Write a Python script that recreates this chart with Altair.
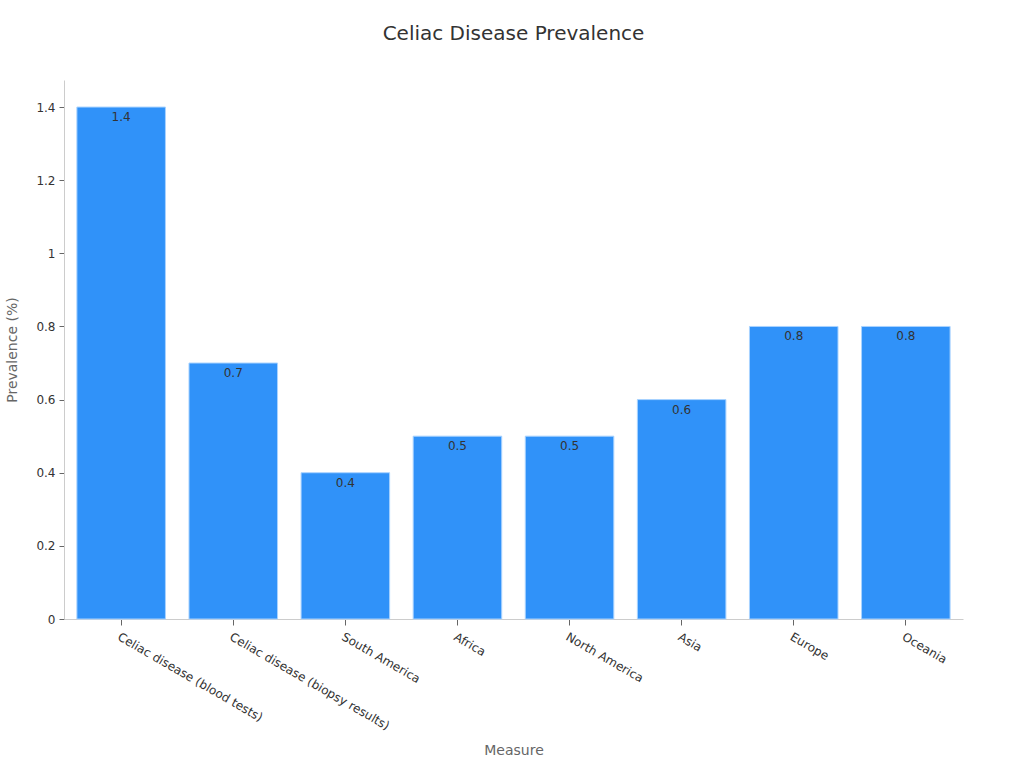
import altair as alt
import pandas as pd

categories = [
    "Celiac disease (blood tests)",
    "Celiac disease (biopsy results)",
    "South America",
    "Africa",
    "North America",
    "Asia",
    "Europe",
    "Oceania",
]
values = [1.4, 0.7, 0.4, 0.5, 0.5, 0.6, 0.8, 0.8]

df = pd.DataFrame({"Measure": categories, "Prevalence": values})

FONT = "DejaVu Sans"

x = alt.X(
    "Measure:N",
    sort=categories,
    title="Measure",
    scale=alt.Scale(paddingInner=0.21, paddingOuter=0.115),
    axis=alt.Axis(
        labelAngle=30,
        labelAlign="left",
        labelBaseline="top",
        labelFontSize=12,
        labelColor="#333333",
        labelPadding=6,
        labelLimit=400,
        titleFontSize=14,
        titleFontWeight="normal",
        titleColor="#666666",
        titlePadding=12,
        tickColor="#666666",
        tickSize=6,
        domainColor="#cccccc",
    ),
)
y = alt.Y(
    "Prevalence:Q",
    title="Prevalence (%)",
    scale=alt.Scale(domain=[0, 1.474], nice=False),
    axis=alt.Axis(
        values=[0, 0.2, 0.4, 0.6, 0.8, 1.0, 1.2, 1.4],
        format="~g",
        grid=False,
        labelFontSize=12,
        labelColor="#333333",
        labelPadding=4,
        titleFontSize=14,
        titleFontWeight="normal",
        titleColor="#666666",
        titlePadding=16,
        tickColor="#666666",
        tickSize=5,
        domainColor="#cccccc",
    ),
)

bars = alt.Chart(df).mark_bar(color="#3092f9", stroke="#a9d3ff", strokeWidth=1).encode(x=x, y=y)
labels = alt.Chart(df).mark_text(
    baseline="top", dy=5, fontSize=12, color="#333333", font=FONT
).encode(x=alt.X("Measure:N", sort=categories), y="Prevalence:Q", text=alt.Text("Prevalence:Q", format="~g"))

chart = (
    alt.layer(bars, labels)
    .properties(
        width=899,
        height=539,
        padding={"left": 64, "top": 80, "right": 61, "bottom": 149},
        autosize=alt.AutoSizeParams(type="none"),
        title=alt.TitleParams(
            "Celiac Disease Prevalence",
            fontSize=20,
            fontWeight="normal",
            color="#333333",
            font=FONT,
            offset=36,
            anchor="middle",
        ),
    )
    .configure(font=FONT)
    .configure_view(stroke=None)
    .configure_axis(labelFont=FONT, titleFont=FONT)
)

chart.save("out.html", embed_options={"renderer": "svg", "actions": False})
